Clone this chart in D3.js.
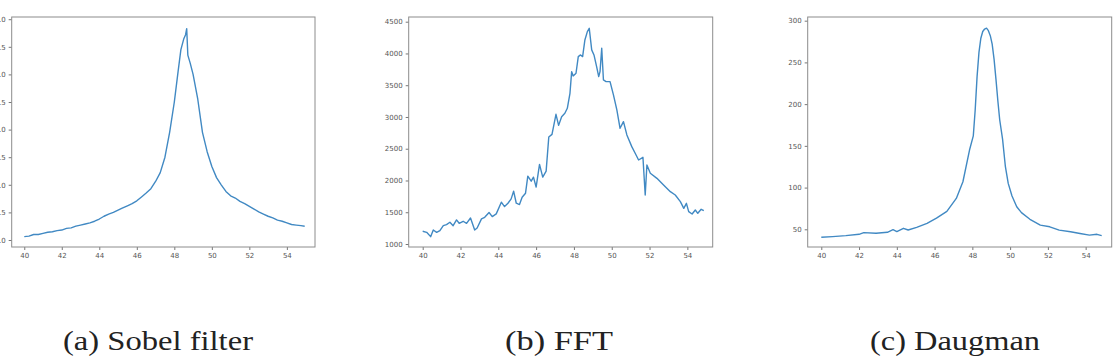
<!DOCTYPE html>
<html>
<head>
<meta charset="utf-8">
<script src="https://cdn.jsdelivr.net/npm/d3@7"></script>
<style>
  body { margin: 0; background: #fff; }
  .canvas { width: 1120px; height: 361px; overflow: hidden; }
  .tick text { font-family: "DejaVu Sans", sans-serif; font-size: 7px; fill: #555; }
  .tick line { stroke: #777; }
  .domain { display: none; }
  .caption { font-family: "Liberation Serif", "DejaVu Serif", serif; font-size: 27px; fill: #222; }
</style>
</head>
<body>
<div class="canvas"></div>
<script>
// values

var xTicks = [40, 42, 44, 46, 48, 50, 52, 54];

// (a) Sobel filter
var sobelX = [40.0, 40.25, 40.5, 40.75, 41.0, 41.25, 41.5, 41.75, 42.0, 42.25, 42.5, 42.75, 43.0, 43.25, 43.5, 43.75,
	44.0, 44.25, 44.5, 44.75, 45.0, 45.25, 45.5, 45.75, 46.0, 46.25, 46.5, 46.75, 47.0, 47.25, 47.5, 47.75,
	48.0, 48.2, 48.35, 48.5, 48.6, 48.66, 48.72, 48.85, 49.0, 49.25, 49.5, 49.75, 50.0, 50.25, 50.5, 50.75,
	51.0, 51.25, 51.5, 51.75, 52.0, 52.25, 52.5, 52.75, 53.0, 53.25, 53.5, 53.75, 54.0, 54.25, 54.5, 54.75, 54.95];
var sobelY = [0.06, 0.07, 0.10, 0.10, 0.12, 0.14, 0.15, 0.17, 0.18, 0.21, 0.22, 0.25, 0.27, 0.29, 0.31, 0.34,
	0.38, 0.43, 0.47, 0.50, 0.54, 0.58, 0.62, 0.66, 0.71, 0.78, 0.85, 0.93, 1.06, 1.22, 1.50, 1.95,
	2.50, 3.05, 3.45, 3.64, 3.72, 3.83, 3.35, 3.20, 3.00, 2.55, 1.95, 1.60, 1.33, 1.13, 1.00, 0.88,
	0.80, 0.76, 0.70, 0.66, 0.61, 0.56, 0.51, 0.47, 0.43, 0.40, 0.36, 0.34, 0.31, 0.28, 0.27, 0.26, 0.25];
var sobelTicks = [0, 0.5, 1.0, 1.5, 2.0, 2.5, 3.0, 3.5, 4.0];

// (b) FFT
var fftX = [40.0, 40.21, 40.42, 40.56, 40.74, 40.91, 41.09, 41.26, 41.44, 41.61, 41.79, 41.93, 42.14, 42.32, 42.53,
	42.75, 42.88, 43.11, 43.28, 43.51, 43.68, 43.89, 44.16, 44.33, 44.51, 44.68, 44.81, 44.95, 45.12, 45.26,
	45.44, 45.56, 45.74, 45.86, 46.0, 46.18, 46.35, 46.53, 46.67, 46.84, 47.05, 47.19, 47.35, 47.52, 47.65,
	47.79, 47.88, 47.96, 48.11, 48.23, 48.35, 48.46, 48.58, 48.71, 48.81, 48.94, 49.06, 49.2, 49.31, 49.38,
	49.47, 49.56, 49.7, 49.91, 50.09, 50.27, 50.44, 50.62, 50.8, 51.06, 51.24, 51.42, 51.65, 51.77, 51.86,
	52.04, 52.39, 52.74, 53.1, 53.36, 53.63, 53.81, 53.95, 54.07, 54.25, 54.42, 54.55, 54.73, 54.87];
var fftY = [1200, 1184, 1116, 1221, 1184, 1210, 1289, 1305, 1342, 1289, 1379, 1326, 1358, 1326, 1410,
	1221, 1253, 1395, 1421, 1495, 1432, 1474, 1658, 1589, 1642, 1711, 1832, 1642, 1621, 1737,
	1800, 2068, 1989, 2053, 1895, 2253, 2053, 2147, 2684, 2726, 3042, 2868, 3005, 3058, 3137,
	3373, 3714, 3646, 3688, 3950, 3977, 3950, 4213, 4344, 4397, 4056, 3977, 3793, 3635, 3714,
	4082, 3583, 3557, 3557, 3347, 3111, 2822, 2927, 2717, 2533, 2428, 2323, 2365, 1772, 2244,
	2113, 2034, 1929, 1824, 1772, 1667, 1562, 1640, 1509, 1472, 1535, 1483, 1546, 1525];
var fftTicks = [1000, 1500, 2000, 2500, 3000, 3500, 4000, 4500];

// (c) Daugman
var daugX = [40.0, 40.6, 41.3, 42.0, 42.25, 42.9, 43.5, 43.8, 44.0, 44.35, 44.6, 45.05, 45.6, 46.1, 46.65,
	47.15, 47.5, 47.85, 48.05, 48.15, 48.25, 48.35, 48.45, 48.55, 48.65, 48.75, 48.85, 48.95, 49.05, 49.15,
	49.25, 49.35, 49.45, 49.6, 49.75, 49.9, 50.1, 50.35, 50.6, 51.05, 51.6, 52.1, 52.6, 53.2, 53.7, 54.2,
	54.6, 54.85];
var daugY = [40.4, 41.2, 42.4, 44.0, 46.0, 45.2, 46.4, 49.5, 47.2, 51.2, 49.2, 52.4, 57.2, 63.5, 71.5,
	87, 107, 145, 162, 193, 233, 262, 279, 287, 290, 291, 288, 282, 272, 254,
	230, 204, 181, 158, 125, 105, 90, 77, 70, 62, 55, 53, 49, 47, 45, 43,
	44, 42.4];
var daugTicks = [50, 100, 150, 200, 250, 300];

var captions = ['(a) Sobel filter', '(b) FFT', '(c) Daugman'];

var width = 1120, height = 361;
var svg = d3.select('.canvas').append('svg')
	.attr('width', width).attr('height', height);

// axes boxes
var panels = [
	{ xs: sobelX, ys: sobelY, yTicks: sobelTicks, fmt: d3.format('.1f'),
	  box: [11.7, 17, 315, 247], xDom: [39.33, 55.5], yDom: [-0.127, 4.04],
	  cap: captions[0], capX: 63, capW: 190 },
	{ xs: fftX, ys: fftY, yTicks: fftTicks, fmt: d3.format('d'),
	  box: [408.7, 17, 712.7, 247], xDom: [39.26, 55.34], yDom: [952.8, 4574],
	  cap: captions[1], capX: 505, capW: 108 },
	{ xs: daugX, ys: daugY, yTicks: daugTicks, fmt: d3.format('d'),
	  box: [807.7, 17, 1111.7, 247], xDom: [39.28, 55.38], yDom: [28.8, 304.4],
	  cap: captions[2], capX: 870, capW: 170 }
];

panels.forEach(function(p) {
	var x0 = p.box[0], y0 = p.box[1], x1 = p.box[2], y1 = p.box[3];
	var x = d3.scaleLinear().domain(p.xDom).range([x0, x1]);
	var y = d3.scaleLinear().domain(p.yDom).range([y1, y0]);
	var g = svg.append('g');

	var pts = p.xs.map(function(v, i) { return [v, p.ys[i]]; });
	var line = d3.line()
		.x(function(d) { return x(d[0]); })
		.y(function(d) { return y(d[1]); });

	g.append('path')
		.datum(pts)
		.attr('d', line)
		.attr('fill', 'none')
		.attr('stroke', '#4189c3')
		.attr('stroke-width', 1.4)
		.attr('stroke-linejoin', 'round');

	g.append('g')
		.attr('transform', 'translate(0,' + y1 + ')')
		.call(d3.axisBottom(x).tickValues(xTicks).tickSize(3).tickPadding(3));
	g.append('g')
		.attr('transform', 'translate(' + x0 + ',0)')
		.call(d3.axisLeft(y).tickValues(p.yTicks).tickFormat(p.fmt).tickSize(3).tickPadding(3));

	// spines
	g.append('rect')
		.attr('x', x0).attr('y', y0)
		.attr('width', x1 - x0).attr('height', y1 - y0)
		.attr('fill', 'none')
		.attr('stroke', '#8c8c8c')
		.attr('stroke-width', 1);

	svg.append('text')
		.classed('caption', true)
		.attr('x', p.capX)
		.attr('y', 350)
		.attr('textLength', p.capW)
		.attr('lengthAdjust', 'spacingAndGlyphs')
		.text(p.cap);
});
</script>
</body>
</html>
